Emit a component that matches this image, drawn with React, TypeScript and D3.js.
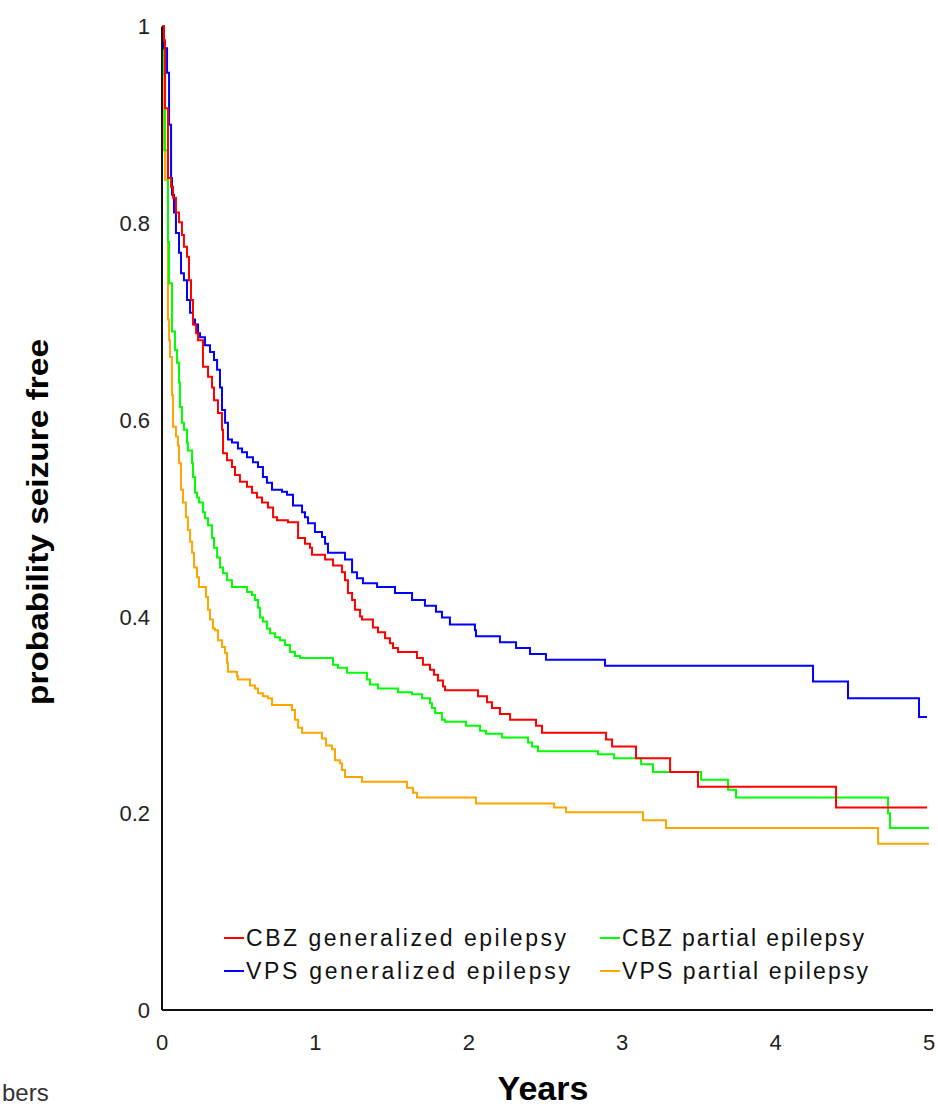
import { useMemo } from "react";
import * as d3 from "d3";

type Pt = [number, number];

// Kaplan-Meier steps: [years, probability]
const cbzGeneralized: Pt[] = [
  [0, 1], [0.013, 0.986], [0.02, 0.917], [0.039, 0.846], [0.059, 0.837], [0.072, 0.826],
  [0.091, 0.811], [0.111, 0.801], [0.13, 0.788], [0.143, 0.776], [0.163, 0.766],
  [0.176, 0.742], [0.189, 0.722], [0.202, 0.697], [0.222, 0.688], [0.235, 0.681],
  [0.267, 0.654], [0.3, 0.644], [0.326, 0.633], [0.339, 0.62], [0.365, 0.607],
  [0.391, 0.59], [0.398, 0.566], [0.424, 0.559], [0.456, 0.552], [0.476, 0.544],
  [0.508, 0.537], [0.554, 0.532], [0.587, 0.526], [0.619, 0.521], [0.652, 0.516],
  [0.691, 0.511], [0.724, 0.501], [0.75, 0.498], [0.821, 0.496], [0.887, 0.48],
  [0.932, 0.474], [0.965, 0.47], [0.978, 0.463], [1.063, 0.458], [1.115, 0.452],
  [1.173, 0.445], [1.193, 0.437], [1.212, 0.424], [1.239, 0.417], [1.258, 0.407],
  [1.291, 0.4], [1.304, 0.397], [1.375, 0.389], [1.408, 0.384], [1.454, 0.378],
  [1.486, 0.373], [1.506, 0.368], [1.538, 0.364], [1.662, 0.358], [1.701, 0.351],
  [1.747, 0.346], [1.773, 0.341], [1.799, 0.335], [1.832, 0.329], [1.845, 0.325],
  [2.06, 0.319], [2.119, 0.313], [2.151, 0.307], [2.203, 0.301], [2.269, 0.295],
  [2.438, 0.289], [2.477, 0.282], [2.894, 0.275], [2.934, 0.268], [3.09, 0.256],
  [3.312, 0.242], [3.494, 0.227], [4.394, 0.206], [4.987, 0.206],
];

const cbzPartial: Pt[] = [
  [0, 1], [0.013, 0.951], [0.02, 0.874], [0.039, 0.781], [0.046, 0.739], [0.065, 0.69],
  [0.085, 0.671], [0.098, 0.658], [0.111, 0.638], [0.117, 0.613], [0.13, 0.597],
  [0.143, 0.59], [0.163, 0.577], [0.169, 0.569], [0.196, 0.556], [0.202, 0.542],
  [0.215, 0.526], [0.228, 0.521], [0.241, 0.516], [0.267, 0.506], [0.28, 0.5],
  [0.3, 0.493], [0.326, 0.48], [0.339, 0.47], [0.359, 0.46], [0.378, 0.45],
  [0.398, 0.444], [0.424, 0.437], [0.456, 0.43], [0.554, 0.425], [0.587, 0.422],
  [0.606, 0.417], [0.626, 0.409], [0.639, 0.399], [0.658, 0.395], [0.684, 0.388],
  [0.704, 0.383], [0.737, 0.379], [0.769, 0.376], [0.802, 0.371], [0.834, 0.364],
  [0.867, 0.36], [0.9, 0.358], [1.115, 0.351], [1.147, 0.348], [1.206, 0.343],
  [1.336, 0.336], [1.356, 0.331], [1.408, 0.327], [1.538, 0.323], [1.63, 0.321],
  [1.695, 0.317], [1.747, 0.312], [1.76, 0.307], [1.78, 0.302], [1.825, 0.295],
  [1.845, 0.293], [1.982, 0.289], [2.073, 0.284], [2.112, 0.281], [2.216, 0.277],
  [2.386, 0.272], [2.412, 0.268], [2.451, 0.263], [2.842, 0.26], [2.947, 0.256],
  [3.123, 0.25], [3.201, 0.242], [3.514, 0.234], [3.69, 0.224], [3.742, 0.216],
  [4.733, 0.2], [4.746, 0.185], [5, 0.185],
];

const vpsGeneralized: Pt[] = [
  [0, 1], [0.013, 0.978], [0.033, 0.953], [0.046, 0.9], [0.059, 0.846], [0.065, 0.829],
  [0.078, 0.811], [0.091, 0.79], [0.111, 0.77], [0.124, 0.749], [0.143, 0.742],
  [0.163, 0.722], [0.183, 0.709], [0.202, 0.702], [0.215, 0.697], [0.235, 0.688],
  [0.248, 0.684], [0.28, 0.676], [0.313, 0.669], [0.339, 0.661], [0.359, 0.651],
  [0.378, 0.633], [0.391, 0.61], [0.411, 0.597], [0.43, 0.58], [0.456, 0.577],
  [0.495, 0.571], [0.522, 0.567], [0.554, 0.562], [0.593, 0.557], [0.626, 0.552],
  [0.658, 0.542], [0.684, 0.536], [0.717, 0.529], [0.782, 0.527], [0.815, 0.524],
  [0.854, 0.513], [0.913, 0.506], [0.932, 0.501], [0.952, 0.495], [0.997, 0.486],
  [1.043, 0.481], [1.063, 0.474], [1.082, 0.465], [1.193, 0.458], [1.239, 0.445],
  [1.271, 0.439], [1.31, 0.434], [1.402, 0.43], [1.519, 0.424], [1.63, 0.417],
  [1.714, 0.411], [1.786, 0.405], [1.825, 0.399], [1.877, 0.392], [2.04, 0.386],
  [2.047, 0.38], [2.203, 0.374], [2.308, 0.368], [2.399, 0.362], [2.503, 0.356],
  [2.888, 0.35], [4.244, 0.334], [4.472, 0.317], [4.935, 0.298], [4.987, 0.298],
];

const vpsPartial: Pt[] = [
  [0, 1], [0.013, 0.874], [0.02, 0.844], [0.039, 0.702], [0.046, 0.681], [0.052, 0.664],
  [0.065, 0.625], [0.072, 0.593], [0.091, 0.583], [0.104, 0.574], [0.111, 0.556],
  [0.124, 0.529], [0.137, 0.516], [0.156, 0.501], [0.169, 0.488], [0.183, 0.476],
  [0.196, 0.465], [0.209, 0.45], [0.228, 0.44], [0.241, 0.43], [0.287, 0.42],
  [0.3, 0.407], [0.313, 0.397], [0.332, 0.388], [0.345, 0.386], [0.365, 0.376],
  [0.391, 0.369], [0.411, 0.363], [0.424, 0.353], [0.43, 0.344], [0.489, 0.339],
  [0.495, 0.336], [0.574, 0.33], [0.606, 0.327], [0.626, 0.322], [0.658, 0.319],
  [0.691, 0.317], [0.717, 0.31], [0.847, 0.305], [0.867, 0.295], [0.887, 0.287],
  [0.913, 0.282], [1.043, 0.276], [1.069, 0.269], [1.108, 0.265], [1.128, 0.254],
  [1.16, 0.251], [1.173, 0.244], [1.193, 0.237], [1.304, 0.232], [1.597, 0.226],
  [1.636, 0.221], [1.662, 0.216], [2.047, 0.21], [2.556, 0.206], [2.634, 0.201],
  [3.136, 0.193], [3.286, 0.185], [4.668, 0.169], [5, 0.169],
];

const series = [
  { name: "VPS partial epilepsy", color: "#ffa500", data: vpsPartial },
  { name: "CBZ partial epilepsy", color: "#00ff00", data: cbzPartial },
  { name: "VPS generalized epilepsy", color: "#0000ff", data: vpsGeneralized },
  { name: "CBZ generalized epilepsy", color: "#ff0000", data: cbzGeneralized },
];

const yTicks = [0, 0.2, 0.4, 0.6, 0.8, 1];
const xTicks = [0, 1, 2, 3, 4, 5];

// legend order as in the picture: two rows, two columns
const legendItems = [
  { name: "CBZ generalized epilepsy", color: "#ff0000", col: 0, row: 0, w: 320 },
  { name: "CBZ partial epilepsy", color: "#00ff00", col: 1, row: 0, w: 242 },
  { name: "VPS generalized epilepsy", color: "#0000ff", col: 0, row: 1, w: 324 },
  { name: "VPS partial epilepsy", color: "#ffa500", col: 1, row: 1, w: 246 },
];

const font = "'Liberation Sans', Arial, sans-serif";

export default function App() {
  const width = 938;
  const height = 1109;

  const x = useMemo(() => d3.scaleLinear().domain([0, 5]).range([162, 929]), []);
  const y = useMemo(() => d3.scaleLinear().domain([0, 1]).range([1010, 26.5]), []);

  const line = d3
    .line<Pt>()
    .x((d) => x(d[0]))
    .y((d) => y(d[1]))
    .curve(d3.curveStepAfter);

  const fmt = (v: number) => (v === 0 || v === 1 ? `${v}` : d3.format(".1f")(v));

  return (
    <svg
      width={width}
      height={height}
      style={{ position: "absolute", left: 0, top: 0, background: "#fff" }}
      fontFamily={font}
    >
      <rect width={width} height={height} fill="#fff" />

      {series.map((s) => (
        <path key={s.name} d={line(s.data) ?? ""} fill="none" stroke={s.color} strokeWidth={2} />
      ))}

      {/* axes */}
      <line x1={x(0)} x2={x(0)} y1={y(1)} y2={y(0)} stroke="#111" strokeWidth={2} />
      <line x1={x(0)} x2={933} y1={y(0)} y2={y(0)} stroke="#111" strokeWidth={2} />

      {yTicks.map((t) => (
        <text key={t} x={150} y={y(t)} dy="0.36em" textAnchor="end" fontSize={22} fill="#222">
          {fmt(t)}
        </text>
      ))}
      {xTicks.map((t) => (
        <text key={t} x={x(t)} y={1050} textAnchor="middle" fontSize={22} fill="#222">
          {t}
        </text>
      ))}

      <text
        transform={`translate(48, 522) rotate(-90)`}
        textAnchor="middle"
        fontSize={30}
        fontWeight="bold"
        fill="#000"
        textLength={366}
        lengthAdjust="spacingAndGlyphs"
      >
        probability seizure free
      </text>
      <text x={543} y={1100} textAnchor="middle" fontSize={34} fontWeight="bold" fill="#000">
        Years
      </text>
      {/* fragment of a caption that the crop cuts at the left edge */}
      <text x={2} y={1101} fontSize={24} fill="#333">
        bers
      </text>

      {/* legend */}
      {legendItems.map((d) => {
        const lx = d.col === 0 ? 224 : 600;
        const ly = d.row === 0 ? 938 : 971;
        return (
          <g key={d.name}>
            <line x1={lx} x2={lx + 20} y1={ly} y2={ly} stroke={d.color} strokeWidth={2} />
            <text
              x={lx + 22}
              y={ly + 8}
              fontSize={23}
              fill="#111"
              textLength={d.w}
              lengthAdjust="spacing"
            >
              {d.name}
            </text>
          </g>
        );
      })}
    </svg>
  );
}
